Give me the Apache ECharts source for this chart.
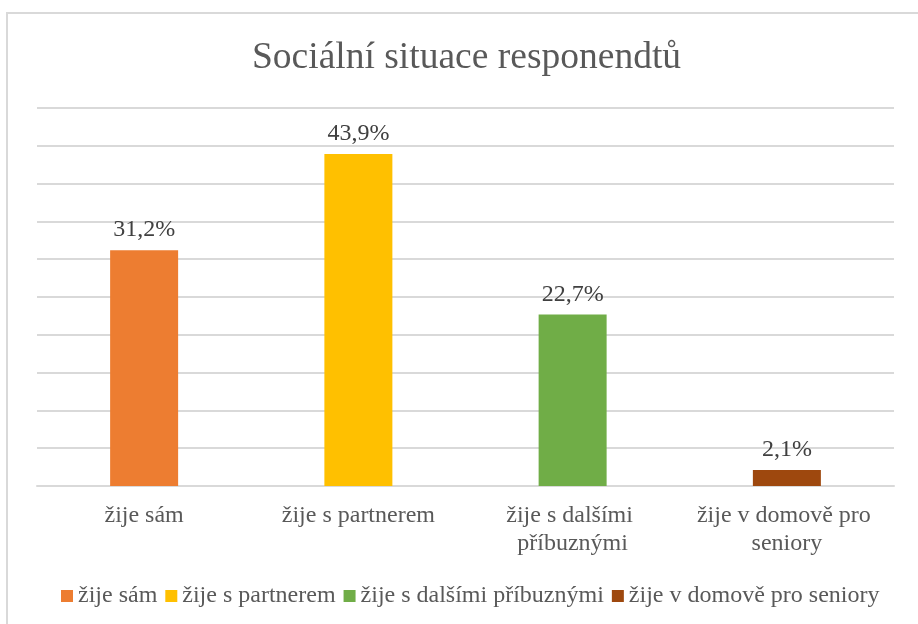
<!DOCTYPE html>
<html>
<head>
<meta charset="utf-8">
<script src="https://cdn.jsdelivr.net/npm/echarts@6/dist/echarts.min.js"></script>
<style>
  html, body { margin: 0; padding: 0; background: #fff; }
  #wrap { position: relative; width: 918px; height: 624px; }
  #frame {
    position: absolute; left: 6px; top: 12px; right: 0; bottom: 0;
    border-left: 2px solid #d9d9d9; border-top: 2px solid #d9d9d9;
  }
  #chart { position: absolute; left: 0; top: 0; width: 918px; height: 624px; }
</style>
</head>
<body>
<div id="wrap">
  <div id="frame"></div>
  <div id="chart"></div>
</div>
<script>
const categories = ['žije sám', 'žije s partnerem', 'žije s dalšími příbuznými', 'žije v domově pro seniory']
const values = [31.2, 43.9, 22.7, 2.1]
const colors = ['#ED7D31', '#FFC000', '#70AD47', '#9E480E']

const serif = '"Liberation Serif", "Times New Roman", serif'

const fmt = v => v.toFixed(1).replace('.', ',') + '%'

// one series per category so the legend lists each category
const series = categories.map((name, i) => ({
  name: name,
  type: 'bar',
  stack: 'all',
  barWidth: 68,
  itemStyle: { color: colors[i] },
  label: {
    show: true,
    position: 'top',
    distance: 8,
    fontFamily: serif,
    fontSize: 24,
    color: '#404040',
    formatter: p => fmt(p.value)
  },
  data: categories.map((c, j) => (j === i ? values[i] : '-'))
}))

const chart = echarts.init(document.getElementById('chart'))
chart.setOption({
  animation: false,
  title: {
    text: 'Sociální situace responendtů',
    left: 252,
    top: 39,
    padding: 0,
    textStyle: { fontFamily: serif, fontSize: 37.5, fontWeight: 'normal', color: '#595959' }
  },
  legend: {
    bottom: 11,
    left: 56,
    icon: 'rect',
    itemWidth: 12,
    itemHeight: 12,
    itemGap: 8,
    textStyle: { fontFamily: serif, fontSize: 24, color: '#595959' },
    data: categories
  },
  grid: { left: 37, right: 24, top: 108, bottom: 138, containLabel: false },
  xAxis: {
    type: 'category',
    data: categories,
    axisTick: { show: false },
    axisLine: { lineStyle: { color: '#d9d9d9', width: 2 } },
    axisLabel: {
      interval: 0,
      margin: 16,
      width: 212,
      overflow: 'break',
      lineHeight: 28,
      fontFamily: serif,
      fontSize: 24,
      color: '#595959'
    }
  },
  yAxis: {
    type: 'value',
    min: 0,
    max: 50,
    interval: 5,
    axisLabel: { show: false },
    axisLine: { show: false },
    axisTick: { show: false },
    splitLine: { lineStyle: { color: '#d9d9d9', width: 2 } }
  },
  series: series
})
</script>
</body>
</html>
